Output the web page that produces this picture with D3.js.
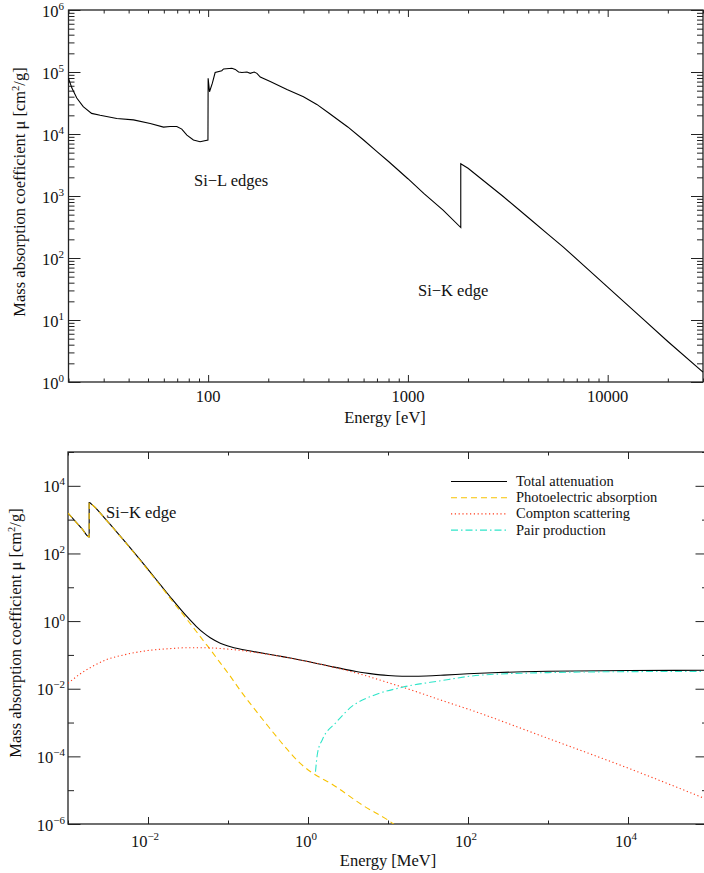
<!DOCTYPE html>
<html><head><meta charset="utf-8">
<script src="https://cdn.jsdelivr.net/npm/d3@7"></script>
<style>
html,body{margin:0;padding:0;background:#fff;overflow:hidden;}
svg{display:block;}
text{font-family:"Liberation Serif","Times New Roman",serif;fill:#111;}
</style></head><body>
<svg id="c" width="704" height="873"></svg>
<script>
// ---------- Top panel data (Energy in eV, mass absorption in cm^2/g) ----------
const topEnergy = [20,20.8,22,23.7,26.1,28.8,34.9,42.3,51.3,59.8,64.5,69.7,73.8,78.3,84.4,91.1,99.8,
  100,101.6,105,108.4,117,119.5,131.5,136.7,142,147.6,156.4,162.5,170,175.5,182.4,204.6,248,300,350,400,500,600,700,800,1000,1200,1500,1839,
  1839,2000,3000,4000,5000,6000,8000,10000,15000,20000,30000];
const topMu = [7.9e4,5.5e4,3.8e4,2.76e4,2.15e4,2.0e4,1.78e4,1.69e4,1.48e4,1.29e4,1.32e4,1.32e4,1.2e4,9.6e3,8.0e3,7.5e3,8.0e3,
  7.9e4,4.8e4,6.6e4,9.8e4,1.05e5,1.12e5,1.15e5,1.1e5,1.0e5,9.8e4,1.0e5,9.5e4,1.0e5,9.5e4,8.3e4,7.0e4,5.2e4,4.0e4,3.0e4,2.2e4,1.3e4,8.0e3,5.2e3,3.6e3,1.9e3,1.1e3,590,310,
  3300,2800,980,450,245,150,65,34,10.4,4.5,1.44];
const topXMajor = [100,1000,10000];
const topXLabels = ["100","1000","10000"];
const topYExp = [0,1,2,3,4,5,6];

// ---------- Bottom panel data (Energy in MeV) ----------
const totalE  = [0.001,0.0015,0.001839,0.001839,0.002,0.003,0.004,0.005,0.006,0.008,0.01,0.015,0.02,0.03,0.04,0.05,0.06,0.08,0.1,0.15,0.2,0.3,0.4,0.5,0.6,0.8,1,1.25,1.5,2,3,4,5,6,8,10,15,20,30,50,100,200,500,1000,10000,100000];
const totalMu = [1570,535,309,3192,2777,978,453,245,147,64.7,33.9,10.3,4.46,1.44,0.701,0.439,0.321,0.223,0.184,0.145,0.128,0.108,0.0961,0.0875,0.0808,0.0708,0.0636,0.0569,0.0518,0.0448,0.0368,0.0324,0.0297,0.0279,0.0257,0.0246,0.0235,0.0234,0.0238,0.0252,0.0278,0.0298,0.0318,0.0328,0.0345,0.0352];
const photoE  = [0.001,0.0015,0.001839,0.001839,0.002,0.003,0.004,0.005,0.006,0.008,0.01,0.015,0.02,0.03,0.04,0.05,0.06,0.08,0.1,0.15,0.2,0.3,0.5,0.8,1.1,2,5,10,15];
const photoMu = [1560,530,306,3160,2750,965,445,239,142,62,32,9.6,4.0,1.2,0.5,0.25,0.145,0.058,0.029,0.0075,0.0031,0.00092,0.00021,6.2e-5,3.4e-5,1.5e-5,3.4e-6,1.3e-6,6.5e-7];
const comptonE  = [0.001,0.0015,0.002,0.003,0.005,0.01,0.02,0.03,0.05,0.08,0.1,0.15,0.2,0.3,0.5,0.8,1,2,5,10,20,50,100,1000,10000,100000];
const comptonMu = [0.0145,0.03,0.045,0.072,0.1,0.135,0.155,0.163,0.163,0.155,0.148,0.134,0.122,0.106,0.087,0.0703,0.0633,0.0443,0.0252,0.0152,0.009,0.0043,0.0025,0.00034,4.5e-5,5.2e-6];
const pairE  = [1.24,1.32,1.52,2.24,3.6,6.4,15,44,138,1000,10000,100000];
const pairMu = [3.5e-5,1.3e-4,3.2e-4,1.0e-3,3.1e-3,6.2e-3,0.011,0.017,0.025,0.030,0.032,0.0325];
const botXExpMajor = [-2,0,2,4];
const botXExpMinor = [-3,-1,1,3,5];
const botYExpMajor = [-6,-4,-2,0,2,4];
const botYExpMinor = [-5,-3,-1,1,3,5];
const legendNames = ["Total attenuation","Photoelectric absorption","Compton scattering","Pair production"];
const seriesColors = ["#000000","#f7c200","#ff3a1a","#2fe5c9"];
const seriesDash = [null,"6,4","1.2,2.6","7,3,1.5,3"];

const svg = d3.select("#c");
const MINUS = "\u2212";

function addSup(sel, base, sup, fs, sfs){
  sel.append("tspan").text(base);
  sel.append("tspan").attr("dy",-7).attr("font-size",sfs).text(sup);
}

function frame(g, x, y, xTicks, yTicks){
  const [x0,x1] = x.range(), [y0,y1] = y.range();
  const mk = (axisFn, scale, vals, size) => axisFn(scale).tickValues(vals).tickSize(size).tickFormat("");
  xTicks.forEach(t=>{
    g.append("g").attr("transform",`translate(0,${y0})`).call(mk(d3.axisTop,x,t.vals,t.size));
    g.append("g").attr("transform",`translate(0,${y1})`).call(mk(d3.axisBottom,x,t.vals,t.size));
  });
  yTicks.forEach(t=>{
    g.append("g").attr("transform",`translate(${x0},0)`).call(mk(d3.axisRight,y,t.vals,t.size));
    g.append("g").attr("transform",`translate(${x1},0)`).call(mk(d3.axisLeft,y,t.vals,t.size));
  });
  g.selectAll(".domain").remove();
  g.selectAll(".tick line").attr("stroke","#222").attr("stroke-width",1);
  g.append("rect").attr("x",x0).attr("y",y1).attr("width",x1-x0).attr("height",y0-y1)
    .attr("fill","none").attr("stroke","#222").attr("stroke-width",1.3);
}

// ================= TOP PANEL =================
const xT = d3.scaleLog().domain([20,30000]).range([68.5,703]);
const yT = d3.scaleLog().domain([1,1e6]).range([382,10]);
const gT = svg.append("g");
const topXMinor = [];
[10,100,1000,10000].forEach(d=>{for(let k=2;k<=9;k++){const v=k*d; if(v>=20&&v<=30000&&!topXMajor.includes(v)) topXMinor.push(v);}});
const topYMinor = [];
for(let e=0;e<6;e++){for(let k=2;k<=9;k++) topYMinor.push(k*Math.pow(10,e));}
frame(gT,xT,yT,[{vals:topXMajor,size:7},{vals:topXMinor,size:3.5}],
  [{vals:topYExp.map(e=>Math.pow(10,e)),size:12},{vals:topYMinor,size:6}]);

const topPts = topEnergy.map((e,i)=>[xT(e),yT(topMu[i])]);
gT.append("path").attr("d",d3.line()(topPts)).attr("fill","none").attr("stroke","#000").attr("stroke-width",1.1);

topXMajor.forEach((v,i)=>{
  gT.append("text").attr("x",xT(v)).attr("y",402).attr("text-anchor","middle").attr("font-size",16.5).text(topXLabels[i]);
});
topYExp.forEach(e=>{
  const t = gT.append("text").attr("x",64).attr("y",yT(Math.pow(10,e))+6.5).attr("text-anchor","end").attr("font-size",16.5);
  addSup(t,"10",String(e),16.5,11);
});
gT.append("text").attr("x",385).attr("y",423).attr("text-anchor","middle").attr("font-size",16.5).text("Energy [eV]");
{
  const t = gT.append("text").attr("transform","translate(25,192) rotate(-90)").attr("text-anchor","middle").attr("font-size",16.5);
  t.append("tspan").text("Mass absorption coefficient \u03bc [cm");
  t.append("tspan").attr("dy",-6).attr("font-size",10.5).text("2");
  t.append("tspan").attr("dy",6).text("/g]");
}
gT.append("text").attr("x",194).attr("y",186).attr("font-size",16.5).text("Si"+MINUS+"L edges");
gT.append("text").attr("x",418).attr("y",296).attr("font-size",16.5).text("Si"+MINUS+"K edge");

// ================= BOTTOM PANEL =================
const xB = d3.scaleLog().domain([1e-3,1e5]).range([68,708]);
const yB = d3.scaleLog().domain([1e-6,1e5]).range([824,452]);
const gB = svg.append("g");
frame(gB,xB,yB,[{vals:botXExpMajor.map(e=>Math.pow(10,e)),size:7},{vals:botXExpMinor.map(e=>Math.pow(10,e)),size:3.5}],
  [{vals:botYExpMajor.map(e=>Math.pow(10,e)),size:12.5},{vals:botYExpMinor.map(e=>Math.pow(10,e)),size:6}]);

svg.append("defs").append("clipPath").attr("id","clipB").append("rect")
  .attr("x",68).attr("y",452).attr("width",640).attr("height",372);
const lineB = d3.line().curve(d3.curveMonotoneX);
const seriesB = [[totalE,totalMu],[photoE,photoMu],[comptonE,comptonMu],[pairE,pairMu]];
const gL = gB.append("g").attr("clip-path","url(#clipB)");
seriesB.forEach(([E,M],i)=>{
  const pts = E.map((e,j)=>[xB(e),yB(M[j])]);
  const p = gL.append("path").attr("d",lineB(pts)).attr("fill","none")
    .attr("stroke",seriesColors[i]).attr("stroke-width",1.1);
  if(seriesDash[i]) p.attr("stroke-dasharray",seriesDash[i]);
});

botXExpMajor.forEach(e=>{
  const t = gB.append("text").attr("x",xB(Math.pow(10,e))-(e<0?3:2)).attr("y",847).attr("text-anchor","middle").attr("font-size",16.5);
  addSup(t,"10",String(e).replace("-",MINUS),16.5,11);
});
botYExpMajor.forEach(e=>{
  const t = gB.append("text").attr("x",65).attr("y",yB(Math.pow(10,e))+6.5).attr("text-anchor","end").attr("font-size",16.5);
  addSup(t,"10",String(e).replace("-",MINUS),16.5,11);
});
gB.append("text").attr("x",388).attr("y",866).attr("text-anchor","middle").attr("font-size",16.5).text("Energy [MeV]");
{
  const t = gB.append("text").attr("transform","translate(21,633) rotate(-90)").attr("text-anchor","middle").attr("font-size",16.5);
  t.append("tspan").text("Mass absorption coefficient \u03bc [cm");
  t.append("tspan").attr("dy",-6).attr("font-size",10.5).text("2");
  t.append("tspan").attr("dy",6).text("/g]");
}
gB.append("text").attr("x",106).attr("y",518).attr("font-size",16.5).text("Si"+MINUS+"K edge");

// legend
const legY = [481.5,497.7,513.9,530.1];
legendNames.forEach((n,i)=>{
  const l = gB.append("line").attr("x1",451).attr("x2",507).attr("y1",legY[i]).attr("y2",legY[i])
    .attr("stroke",seriesColors[i]).attr("stroke-width",1.1);
  if(seriesDash[i]) l.attr("stroke-dasharray",seriesDash[i]);
  gB.append("text").attr("x",516).attr("y",legY[i]+4.5).attr("font-size",14.5).text(n);
});
</script>
</body></html>
